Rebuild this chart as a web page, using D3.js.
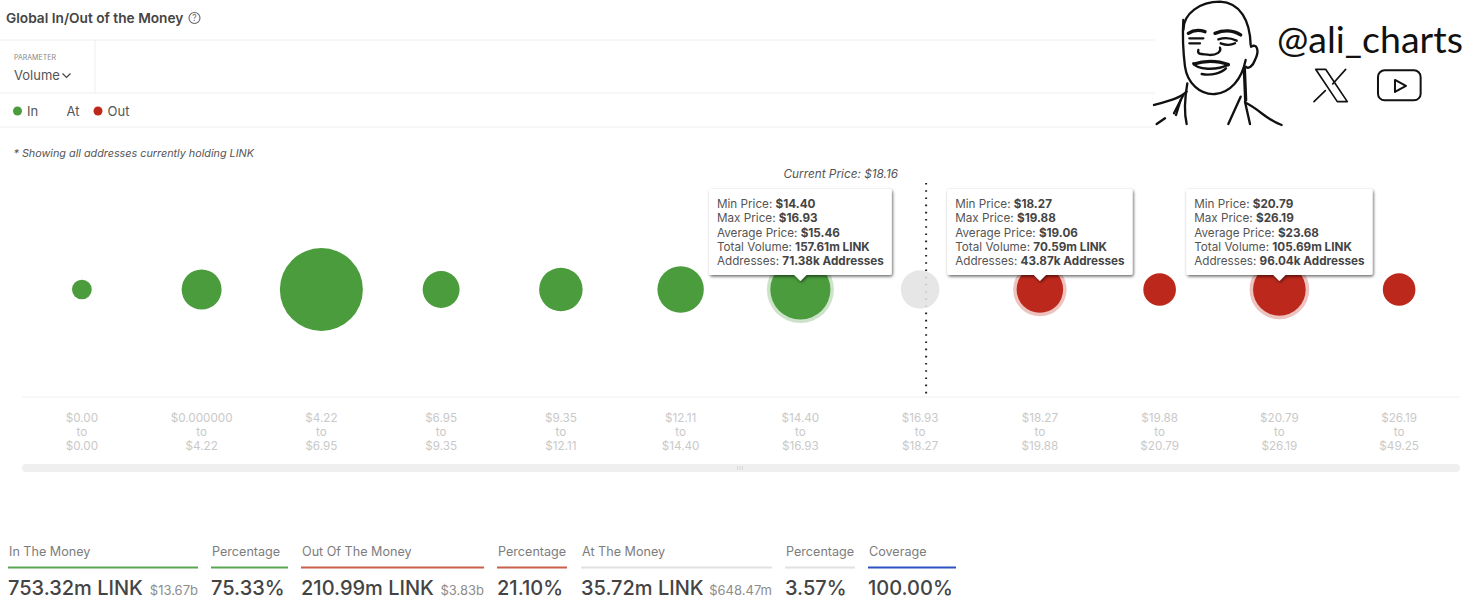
<!DOCTYPE html>
<html>
<head>
<meta charset="utf-8">
<script src="https://cdn.jsdelivr.net/npm/d3@7/dist/d3.min.js"></script>
<style>
html,body{margin:0;padding:0;background:#fff;overflow:hidden}
svg{display:block;font-family:Inter,"Noto Sans",sans-serif}
</style>
</head>
<body>
<svg id="c" width="1472" height="608"></svg>
<script>
// ---------- data ----------
const priceFrom = ["$0.00","$0.000000","$4.22","$6.95","$9.35","$12.11","$14.40","$16.93","$18.27","$19.88","$20.79","$26.19"];
const priceTo   = ["$0.00","$4.22","$6.95","$9.35","$12.11","$14.40","$16.93","$18.27","$19.88","$20.79","$26.19","$49.25"];
const volumes   = [0.05,41,382,30,56,70,157.61,35.72,70.59,17.4,105.69,17.3];
const status    = ["in","in","in","in","in","in","in","at","out","out","out","out"];
const highlighted = [6,8,10];
const tipMin  = ["$14.40","$18.27","$20.79"];
const tipMax  = ["$16.93","$19.88","$26.19"];
const tipAvg  = ["$15.46","$19.06","$23.68"];
const tipVol  = ["157.61m LINK","70.59m LINK","105.69m LINK"];
const tipAddr = ["71.38k Addresses","43.87k Addresses","96.04k Addresses"];
const summaryLabels = ["In The Money","Percentage","Out Of The Money","Percentage","At The Money","Percentage","Coverage"];
const summaryValues = ["753.32m LINK","75.33%","210.99m LINK","21.10%","35.72m LINK","3.57%","100.00%"];
const summarySub    = ["$13.67b","","$3.83b","","$648.47m","",""];
const summaryKinds  = ["in","in","out","out","at","at","all"];
const summaryLeft   = [8,211,301,497,581,785,868];
const summaryRight  = [198,288,484,567,772,855,956];

// ---------- styles ----------
const fillOf = {in:"#4a9c3c",out:"#bd281c",at:"#e3e3e3"};
const ruleOf = {in:"#5aa650",out:"#c8604a",at:"#e2e2e2",all:"#2d52c4"};
const INK="#444", RULE="#eeeeee";
const svg=d3.select("#c");

// ---------- header ----------
svg.append("text").attr("x",6).attr("y",22.5).attr("font-size",13.7).attr("font-weight",600).attr("fill",INK).text("Global In/Out of the Money");
const help=svg.append("g").attr("transform","translate(194.5,18)");
help.append("circle").attr("r",5.5).attr("fill","none").attr("stroke","#666").attr("stroke-width",1.1);
help.append("text").attr("text-anchor","middle").attr("y",3).attr("font-size",8.5).attr("fill","#666").text("?");
[[0,40,1155,40],[0,93,1155,93],[0,127,1155,127],[95,40,95,93]].forEach(d=>{
  svg.append("line").attr("x1",d[0]).attr("y1",d[1]).attr("x2",d[2]).attr("y2",d[3]).attr("stroke",RULE);
});
svg.append("text").attr("x",14).attr("y",60).attr("font-size",7).attr("fill","#888").text("PARAMETER");
svg.append("text").attr("x",14).attr("y",80).attr("font-size",13).attr("fill","#555").text("Volume");
svg.append("path").attr("d","M62.5,73.5 L66.5,77.5 L70.5,73.5").attr("fill","none").attr("stroke","#444").attr("stroke-width",1.2);
svg.append("circle").attr("cx",17.5).attr("cy",111).attr("r",4.5).attr("fill",fillOf.in);
svg.append("text").attr("x",27).attr("y",116).attr("font-size",13).attr("fill","#555").text("In");
svg.append("text").attr("x",66.5).attr("y",116).attr("font-size",13).attr("fill","#555").text("At");
svg.append("circle").attr("cx",98).attr("cy",111).attr("r",4.5).attr("fill",fillOf.out);
svg.append("text").attr("x",107.5).attr("y",116).attr("font-size",13).attr("fill","#555").text("Out");
svg.append("text").attr("x",13.5).attr("y",157).attr("font-size",10.8).attr("font-style","italic").attr("fill","#555").text("* Showing all addresses currently holding LINK");

// ---------- chart ----------
const x=d3.scaleBand().domain(d3.range(volumes.length)).range([22,1459]);
const r=d3.scaleSqrt().domain([0,382]).range([9.5,41.5]);
const cx=i=>x(i)+x.bandwidth()/2;
const CY=289.5;

svg.append("line").attr("x1",22).attr("x2",1460).attr("y1",397).attr("y2",397).attr("stroke","#f1f1f1");
svg.append("text").attr("x",898).attr("y",178).attr("text-anchor","end").attr("font-size",11.8).attr("font-style","italic").attr("fill","#555").text("Current Price: $18.16");
svg.append("line").attr("x1",cx(7)+6).attr("x2",cx(7)+6).attr("y1",183).attr("y2",397).attr("stroke","#222").attr("stroke-width",2).attr("stroke-dasharray","1.6 5.6");

const axis=svg.append("g").attr("transform","translate(0,397)")
  .call(d3.axisBottom(x).tickSize(0).tickFormat(()=>""));
axis.select(".domain").remove();
axis.selectAll(".tick text").each(function(i){
  const t=d3.select(this).attr("y",0).attr("dy",null).attr("fill","#c9c9c9").attr("font-size",11.7).attr("font-family","Inter").text(null);
  [[priceFrom[i],25],["to",39],[priceTo[i],53]].forEach(p=>t.append("tspan").attr("x",0).attr("y",p[1]).text(p[0]));
});

svg.append("g").selectAll("circle.halo").data(highlighted).join("circle")
  .attr("cx",cx).attr("cy",CY).attr("r",i=>r(volumes[i])+3.5)
  .attr("fill",i=>fillOf[status[i]]).attr("fill-opacity",.28);
svg.append("g").selectAll("circle.bub").data(volumes).join("circle")
  .attr("cx",(d,i)=>cx(i)).attr("cy",CY).attr("r",d=>r(d))
  .attr("fill",(d,i)=>fillOf[status[i]]).attr("fill-opacity",(d,i)=>status[i]==="at"?.88:1);

// scrollbar
svg.append("rect").attr("x",22).attr("y",464).attr("width",1438).attr("height",8).attr("rx",4).attr("fill","#efefef");
[737.5,740,742.5].forEach(g=>svg.append("line").attr("x1",g).attr("x2",g).attr("y1",466).attr("y2",470).attr("stroke","#cfcfcf").attr("stroke-width",.8));

// tooltips
const defs=svg.append("defs");
const f=defs.append("filter").attr("id","sh").attr("x","-10%").attr("y","-15%").attr("width","120%").attr("height","135%");
f.append("feDropShadow").attr("dx",1).attr("dy",1.5).attr("stdDeviation",1.8).attr("flood-color","#000").attr("flood-opacity",.6);
highlighted.forEach((idx,k)=>{
  const c=cx(idx), rows=[["Min Price: ",tipMin[k]],["Max Price: ",tipMax[k]],["Average Price: ",tipAvg[k]],["Total Volume: ",tipVol[k]],["Addresses: ",tipAddr[k]]];
  const g=svg.append("g");
  const box=g.append("path").attr("fill","#fff").attr("filter","url(#sh)");
  const texts=rows.map((row,j)=>{
    const t=g.append("text").attr("y",208+j*14.3).attr("font-size",11.7).attr("fill","#555");
    t.append("tspan").text(row[0]);
    t.append("tspan").attr("font-weight",700).attr("fill",INK).text(row[1]);
    return t;
  });
  const w=d3.max(texts,t=>t.node().getComputedTextLength())+16;
  const L=c-w/2, R=c+w/2, T=189, B=275;
  texts.forEach(t=>t.attr("x",L+8));
  box.attr("d",`M${L+2},${T} H${R-2} Q${R},${T} ${R},${T+2} V${B-2} Q${R},${B} ${R-2},${B} H${c+6} L${c},${B+6} L${c-6},${B} H${L+2} Q${L},${B} ${L},${B-2} V${T+2} Q${L},${T} ${L+2},${T} Z`);
});

// ---------- summary ----------
summaryLabels.forEach((lab,i)=>{
  const L=summaryLeft[i], R=summaryRight[i];
  svg.append("text").attr("x",L+1).attr("y",556).attr("font-size",12.6).attr("fill","#7d7d7d").text(lab);
  svg.append("line").attr("x1",L).attr("x2",R).attr("y1",567.5).attr("y2",567.5).attr("stroke",ruleOf[summaryKinds[i]]).attr("stroke-width",2);
  svg.append("text").attr("x",L).attr("y",595).attr("font-size",20).attr("font-weight",500).attr("fill",INK).text(summaryValues[i]);
  if(summarySub[i]) svg.append("text").attr("x",R).attr("y",595).attr("text-anchor","end").attr("font-size",13).attr("fill","#8d8d8d").text(summarySub[i]);
});

// ---------- watermark ----------
svg.append("rect").attr("x",1155).attr("y",0).attr("width",317).attr("height",127).attr("fill","#fff");
const wm=svg.append("g").attr("transform","translate(1150,0) scale(0.3333)").attr("fill","none").attr("stroke","#111").attr("stroke-linecap","round").attr("stroke-linejoin","round");
const thin=["M100,90 C100,40 150,5 210,5 C270,8 300,60 302,135",
 "M100,60 C97,110 100,160 105,200 C112,250 150,285 195,282 C240,278 275,240 287,180",
 "M303,140 C320,130 330,150 315,180 C308,200 295,208 288,200",
 "M112,250 C105,290 100,330 110,372","M12,315 C50,305 90,295 110,275","M20,372 L45,355","M100,285 L72,340","M92,300 L78,345",
 "M272,290 L235,372","M285,305 L300,372","M290,310 C330,330 350,360 395,375",
 "M118,115 H160","M118,130 H150","M205,118 C225,112 245,115 260,122","M212,130 C230,137 245,135 255,130",
 "M145,150 C140,168 165,160 180,165 C200,165 215,155 210,143",
 "M155,222 C185,228 215,218 228,205","M130,190 C140,210 200,212 236,194"];
const thick=["M115,100 C130,90 150,90 165,95","M195,100 C220,90 250,90 272,105","M132,192 C160,182 200,180 235,194",
 "M283,205 L287,300"];
thin.forEach(d=>wm.append("path").attr("d",d).attr("stroke-width",7));
thick.forEach(d=>wm.append("path").attr("d",d).attr("stroke-width",10));
wm.append("path").attr("d","M497,208 H527 L592,305 H562 Z M587,208 L548,252 M526,272 L492,305").attr("stroke-width",5);
wm.append("rect").attr("x",684).attr("y",211).attr("width",128).attr("height",90).attr("rx",20).attr("stroke-width",6);
wm.append("path").attr("d","M735,240 L768,258 L735,276 Z").attr("stroke-width",6);
svg.append("text").attr("x",1277).attr("y",53).attr("font-family","Lato").attr("font-weight",400).attr("font-size",37.5).attr("fill","#111").text("@ali_charts");
</script>
</body>
</html>
